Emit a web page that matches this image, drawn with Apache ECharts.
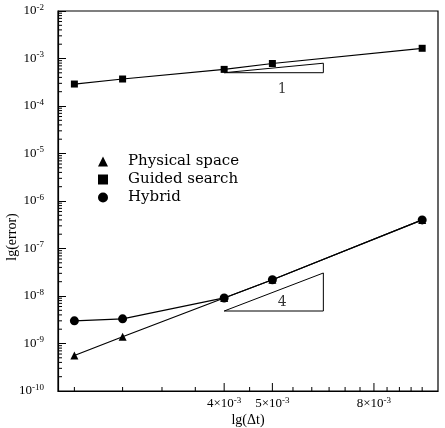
<!DOCTYPE html>
<html>
<head>
<meta charset="utf-8">
<script src="https://cdn.jsdelivr.net/npm/echarts@6/dist/echarts.min.js"></script>
<style>
  html, body { margin: 0; background: #fff; }
  #chart { width: 445px; height: 428px; }
</style>
</head>
<body>
<div id="chart"></div>
<script>
// time steps and errors
var dt = [2e-3, 2.5e-3, 4e-3, 5e-3, 1e-2];
var physical = [5.6e-10, 1.39e-9, 9.1e-9, 2.2e-8, 4.0e-7];
var guided = [2.9e-4, 3.7e-4, 5.9e-4, 7.85e-4, 1.64e-3];
var hybrid = [3.0e-9, 3.3e-9, 9.1e-9, 2.2e-8, 4.0e-7];
var names = ['Physical space', 'Guided search', 'Hybrid'];

// axis ticks
var xMin = 1.854e-3, xMax = 1.076e-2;
var yMin = 1e-10, yMax = 1e-2;
var xMajor = [4e-3, 5e-3, 8e-3];
var xMajorLabels = ['4×10', '5×10', '8×10'];
var xMinor = [2e-3, 2.5e-3, 3e-3, 3.5e-3, 4.5e-3, 5.5e-3, 6e-3, 6.5e-3, 7e-3, 7.5e-3, 8.5e-3, 9e-3, 9.5e-3, 1e-2];
var yMinorFactors = [2, 3, 4, 5, 6, 7, 8, 9];

// slope triangles
var slope1 = [[4e-3, 5.02e-4], [6.33e-3, 5.02e-4], [6.33e-3, 7.96e-4], [4e-3, 5.02e-4]];
var slope4 = [[4e-3, 4.83e-9], [6.33e-3, 4.83e-9], [6.33e-3, 3.05e-8], [4e-3, 4.83e-9]];
var slopeText = [[5.23e-3, 2.27e-4, '1'], [5.23e-3, 7.3e-9, '4']];

function pairs(ys) {
  return dt.map(function (x, i) { return [x, ys[i]]; });
}

var yMinor = [];
for (var d = -10; d < -2; d++) {
  yMinorFactors.forEach(function (k) { yMinor.push([xMin, k * Math.pow(10, d)]); });
}

var xTicks = xMinor.map(function (v) { return [v, yMin, 0, '']; })
  .concat(xMajor.map(function (v, i) { return [v, yMin, 1, xMajorLabels[i]]; }));

var font = 'Liberation Serif';
var lineStyle = { color: '#000', width: 1.2 };

var chart = echarts.init(document.getElementById('chart'));
var option = {
  animation: false,
  backgroundColor: '#fff',
  grid: {
    left: 58, right: 7, top: 11, bottom: 37, outerBoundsMode: 'none', containLabel: false,
    show: true, borderColor: '#000', borderWidth: 1.2
  },
  legend: {
    data: [
      { name: names[0], icon: 'triangle' },
      { name: names[1], icon: 'rect' },
      { name: names[2], icon: 'circle' }
    ],
    orient: 'vertical',
    left: 93, top: 149,
    itemWidth: 10, itemHeight: 10, itemGap: 3,
    textStyle: { fontFamily: 'DejaVu Serif', fontSize: 15, color: '#000', padding: [0, 0, 0, 15] }
  },
  xAxis: {
    type: 'log', min: xMin, max: xMax,
    name: 'lg(Δt)', nameLocation: 'middle', nameGap: 22,
    nameTextStyle: { fontFamily: font, fontSize: 14, color: '#000' },
    axisLine: { lineStyle: { color: '#000', width: 1.2 } },
    axisTick: { show: false }, axisLabel: { show: false }, splitLine: { show: false }
  },
  yAxis: {
    type: 'log', min: yMin, max: yMax, splitNumber: 8,
    axisLine: { lineStyle: { color: '#000', width: 1.2 } },
    axisTick: { inside: true, length: 8, lineStyle: { color: '#000' } },
    splitLine: { show: false },
    axisLabel: {
      margin: 14,
      formatter: function (v) {
        return '{b|10}{s|' + Math.round(Math.log10(v)) + '}';
      },
      rich: {
        b: { fontFamily: font, fontSize: 13, color: '#000' },
        s: { fontFamily: font, fontSize: 9, color: '#000', padding: [0, 0, 7, 0] }
      }
    }
  },
  graphic: [{
    type: 'text', x: 12, y: 237, rotation: Math.PI / 2,
    style: { text: 'lg(error)', font: '14px ' + font, fill: '#000', align: 'center', verticalAlign: 'middle' }
  }],
  series: [
    {
      name: names[0], type: 'line', data: pairs(physical),
      symbol: 'triangle', symbolSize: 8, itemStyle: { color: '#000' }, lineStyle: lineStyle
    },
    {
      name: names[1], type: 'line', data: pairs(guided),
      symbol: 'rect', symbolSize: 7, itemStyle: { color: '#000' }, lineStyle: lineStyle
    },
    {
      name: names[2], type: 'line', data: pairs(hybrid),
      symbol: 'circle', symbolSize: 9, itemStyle: { color: '#000' }, lineStyle: lineStyle
    },
    { type: 'line', data: slope1, symbol: 'none', lineStyle: { color: '#000', width: 1 } },
    { type: 'line', data: slope4, symbol: 'none', lineStyle: { color: '#000', width: 1 } },
    {
      type: 'scatter', data: slopeText, symbolSize: 0,
      label: {
        show: true, position: 'inside', color: '#000', fontFamily: 'DejaVu Serif', fontSize: 14,
        formatter: function (p) { return p.value[2]; }
      }
    },
    {
      type: 'custom', data: xTicks, clip: false, silent: true,
      renderItem: function (params, api) {
        var p = api.coord([api.value(0), api.value(1)]);
        var major = api.value(2) === 1;
        var children = [{
          type: 'line',
          shape: { x1: p[0], y1: p[1], x2: p[0], y2: p[1] - (major ? 8 : 4) },
          style: { stroke: '#000', lineWidth: 1 }
        }];
        if (major) {
          children.push({
            type: 'text', x: p[0], y: p[1] + 13,
            style: {
              text: '{b|' + xTicks[params.dataIndex][3] + '}{s|-3}',
              align: 'center', verticalAlign: 'middle',
              rich: {
                b: { fontFamily: font, fontSize: 13, fill: '#000' },
                s: { fontFamily: font, fontSize: 9, fill: '#000', padding: [0, 0, 7, 0] }
              }
            }
          });
        }
        return { type: 'group', children: children };
      }
    },
    {
      type: 'custom', data: yMinor, clip: false, silent: true,
      renderItem: function (params, api) {
        var p = api.coord([api.value(0), api.value(1)]);
        return {
          type: 'line',
          shape: { x1: p[0], y1: p[1], x2: p[0] + 4, y2: p[1] },
          style: { stroke: '#000', lineWidth: 1 }
        };
      }
    }
  ]
};
chart.setOption(option);
</script>
</body>
</html>
